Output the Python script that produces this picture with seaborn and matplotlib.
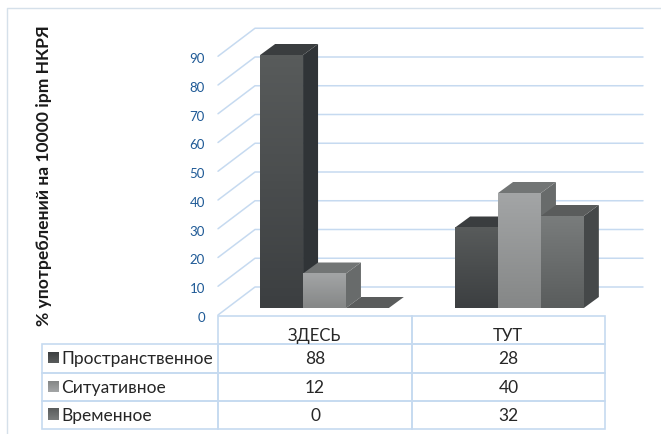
import matplotlib
matplotlib.use('Agg')
import numpy as np
import pandas as pd
import matplotlib.pyplot as plt
import seaborn as sns
from matplotlib.patches import Polygon, Rectangle
from matplotlib.lines import Line2D
from matplotlib.colors import LinearSegmentedColormap

# values
categories = ["ЗДЕСЬ", "ТУТ"]
series_names = ["Пространственное", "Ситуативное", "Временное"]
prostr_values = [88, 28]
situat_values = [12, 40]
vrem_values = [0, 32]
y_ticks = [0, 10, 20, 30, 40, 50, 60, 70, 80, 90]

# colours per series: front top, front bottom, side, roof
front_top = ["#585b5b", "#a3a5a6", "#797c7c"]
front_bottom = ["#3c3f41", "#858787", "#5a5d5d"]
side_col = ["#303437", "#686b6b", "#454849"]
roof_col = ["#3a3d3f", "#727575", "#5a5c5c"]
LINE = "#c6daf0"
W, H = 661, 435

sns.set_theme(style="white")
plt.rcParams['font.family'] = ['Lato', 'Noto Sans', 'DejaVu Sans']

df = pd.DataFrame({
    "cat": categories * 3,
    "series": [s for s in series_names for _ in categories],
    "value": prostr_values + situat_values + vrem_values,
})

fig = plt.figure(figsize=(W / 100, H / 100), dpi=100)
# axes is the plane of the bar fronts; 195 px per category, 2.875 px per %
ax = fig.add_axes([227 / W, (H - 309) / H, 390 / W, 300 / H])
sns.barplot(data=df, x="cat", y="value", hue="series", order=categories,
            hue_order=series_names, width=0.66, gap=0, dodge=True,
            palette=front_bottom, legend=False, ax=ax, linewidth=0)
ax.set_xlim(-0.5, 1.5)
ax.set_ylim(0, 300 / 2.875)
ax.axis("off")
ax.patch.set_alpha(0)


def px(dx, dy):
    # pixel offset -> data offset
    return dx / 195, dy / 2.875


def at(x_px, y_px):
    # figure pixel (from top left) -> data position
    return -0.5 + (x_px - 227) / 195, (309 - y_px) / 2.875


# back wall gridlines and side wall diagonals
fx, fy = px(-9, -7)
bx, by = px(28, 21)
end_x = 1.5 + px(26, 0)[0]
for v in y_ticks:
    ax.plot([-0.5 + fx, -0.5 + bx, end_x], [v + fy, v + by, v + by], color=LINE, lw=1.1,
            clip_on=False, zorder=1)
    ax.text(-0.5 + fx - 13 / 195, v + fy + px(0, -2)[1], str(v), color="#1f5a96", fontsize=9.5,
            ha="right", va="center", clip_on=False)

# 3d faces for every bar, drawn left to right so the neighbours overlap properly
tx, ty = px(15, 11)
for i, cont in enumerate(ax.containers):
    cmap = LinearSegmentedColormap.from_list("f", [front_top[i], front_bottom[i]])
    z = 3 + i
    for bar in cont:
        x0, w, h = bar.get_x(), bar.get_width(), bar.get_height()
        bar.set_zorder(z)
        if h > 0:
            ax.imshow(np.linspace(0, 1, 64).reshape(-1, 1), cmap=cmap, aspect="auto",
                      extent=[x0, x0 + w, 0, h], zorder=z + 0.1, origin="upper")
        ax.add_patch(Polygon([(x0 + w, 0), (x0 + w + tx, ty), (x0 + w + tx, h + ty), (x0 + w, h)],
                             color=side_col[i], lw=0, zorder=z))
        ax.add_patch(Polygon([(x0, h), (x0 + w, h), (x0 + w + tx, h + ty), (x0 + tx, h + ty)],
                             color=roof_col[i], lw=0, zorder=z))

# data table below the plot, category names are placed by hand lower in their row
cell_text = [["", "", ""]]
for name, vals in zip(series_names, [prostr_values, situat_values, vrem_values]):
    cell_text.append([name] + [str(v) for v in vals])
tl, tr, tt, tb = 42, 605, 317, 430
tab = ax.table(cellText=cell_text, cellLoc="center", colWidths=[176, 194, 193],
               bbox=[(tl - 227) / 390, (309 - tb) / 300, (tr - tl) / 390, (tb - tt) / 300])
tab.auto_set_font_size(False)
tab.set_fontsize(12.5)
tab.set_zorder(6)
for (r, c), cell in tab.get_celld().items():
    cell.set_edgecolor(LINE)
    cell.set_linewidth(1.2)
    cell.set_facecolor("none")
    cell.get_text().set_color("#262626")
    if c == 0:
        cell.PAD = 19 / 176
        cell.set_text_props(ha="left")
tab[(0, 0)].visible_edges = ""

for name, xp in zip(categories, [314, 508]):
    xd, yd = at(xp, 336)
    ax.text(xd, yd, name, fontsize=12, color="#262626", ha="center", va="center",
            clip_on=False, zorder=7)

# legend keys in the first column, same gradient as the bars
for i, yc in enumerate([358.5, 387.5, 415.5]):
    cmap = LinearSegmentedColormap.from_list("k", [front_bottom[i], front_top[i]])
    x0, y0 = at(48, yc + 5.5)
    x1, y1 = at(59, yc - 5.5)
    im = ax.imshow(np.linspace(0, 1, 16).reshape(-1, 1), cmap=cmap, aspect="auto",
                   extent=[x0, x1, y0, y1], zorder=7, origin="upper")
    im.set_clip_on(False)

ax.set_xlim(-0.5, 1.5)
ax.set_ylim(0, 300 / 2.875)

fig.text(44 / W, (H - 176) / H, "% употреблений на 10000 ipm НКРЯ", rotation=90,
         fontsize=12.6, fontweight="bold", color="#1a1a1a", ha="center", va="center")

# thin frame of the chart area: only top and left survive in the picture
fig.add_artist(Line2D([7 / W, 7 / W, 1], [0, (H - 9) / H, (H - 9) / H],
                      color="#d5e0ea", lw=1))

fig.savefig("out.png", dpi=100)
